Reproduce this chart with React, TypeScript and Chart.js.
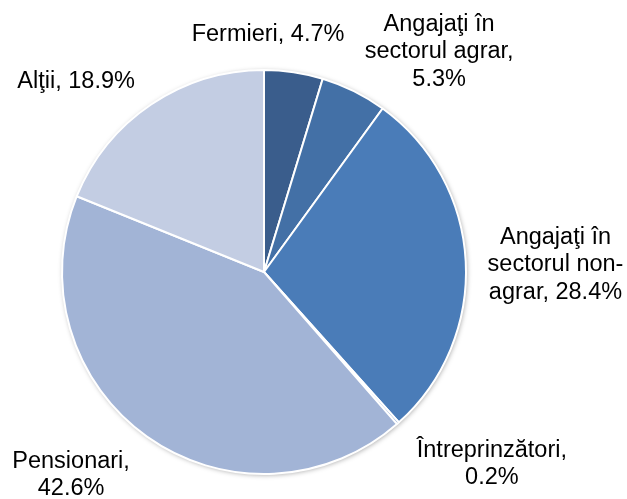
import React, { useEffect, useRef } from "react";
import { Chart, registerables } from "chart.js";

Chart.register(...registerables);

const categories = [
  "Fermieri",
  "Angajaţi în sectorul agrar",
  "Angajaţi în sectorul non-agrar",
  "Întreprinzători",
  "Pensionari",
  "Alţii",
];
const values = [4.7, 5.3, 28.4, 0.2, 42.6, 18.9];
const labelLines = [
  ["Fermieri, 4.7%"],
  ["Angajaţi în", "sectorul agrar,", "5.3%"],
  ["Angajaţi în", "sectorul non-", "agrar, 28.4%"],
  ["Întreprinzători,", "0.2%"],
  ["Pensionari,", "42.6%"],
  ["Alţii, 18.9%"],
];
const colors = ["#3A5D8C", "#4370A6", "#4A7CB8", "#8EA8D2", "#A2B4D6", "#C3CDE3"];
// label anchor offsets (relative to the chart center, as multiples of the radius)
const labelAnchors = [
  [0.02, -1.175],
  [0.867, -1.09],
  [1.443, -0.035],
  [1.128, 0.95],
  [-0.955, 1.005],
  [-0.93, -0.945],
];

const labelPlugin = {
  id: "outerLabels",
  beforeDatasetsDraw(chart: any) {
    const meta = chart.getDatasetMeta(0);
    const arc = meta.data[0];
    if (!arc) return;
    const { x, y, outerRadius } = arc.getProps(["x", "y", "outerRadius"], true);
    const ctx = chart.ctx;
    ctx.save();
    ctx.shadowColor = "rgba(0,0,0,0.35)";
    ctx.shadowBlur = 5;
    ctx.shadowOffsetX = 1;
    ctx.shadowOffsetY = 1;
    ctx.fillStyle = "#ffffff";
    ctx.beginPath();
    ctx.arc(x, y, outerRadius, 0, Math.PI * 2);
    ctx.fill();
    ctx.restore();
  },
  afterDatasetsDraw(chart: any) {
    const meta = chart.getDatasetMeta(0);
    const arc = meta.data[0];
    if (!arc) return;
    const { x, y, outerRadius } = arc.getProps(["x", "y", "outerRadius"], true);
    const ctx = chart.ctx;
    ctx.save();
    ctx.fillStyle = "#000000";
    ctx.font = "23.5px 'Liberation Sans', Arial, sans-serif";
    ctx.textAlign = "center";
    ctx.textBaseline = "middle";
    const lh = 27.5;
    labelLines.forEach((lines, i) => {
      const cx = x + labelAnchors[i][0] * outerRadius;
      const cy = y + labelAnchors[i][1] * outerRadius;
      const startY = cy - ((lines.length - 1) * lh) / 2;
      lines.forEach((t, j) => ctx.fillText(t, cx, startY + j * lh));
    });
    ctx.restore();
  },
};

export default function App() {
  const ref = useRef<HTMLCanvasElement>(null);
  useEffect(() => {
    if (!ref.current) return;
    const chart = new Chart(ref.current, {
      type: "pie",
      data: {
        labels: categories,
        datasets: [
          {
            data: values,
            backgroundColor: colors,
            borderColor: "#ffffff",
            borderWidth: 2,
          },
        ],
      },
      options: {
        animation: false,
        responsive: false,
        layout: { padding: { left: 61, right: 160, top: 69, bottom: 24 } },
        plugins: { legend: { display: false }, tooltip: { enabled: false } },
      },
      plugins: [labelPlugin],
    });
    return () => chart.destroy();
  }, []);
  return (
    <div style={{ position: "absolute", left: 0, top: 0, width: 627, height: 499, background: "#fff" }}>
      <canvas ref={ref} width={627} height={499} style={{ width: 627, height: 499 }} />
    </div>
  );
}
